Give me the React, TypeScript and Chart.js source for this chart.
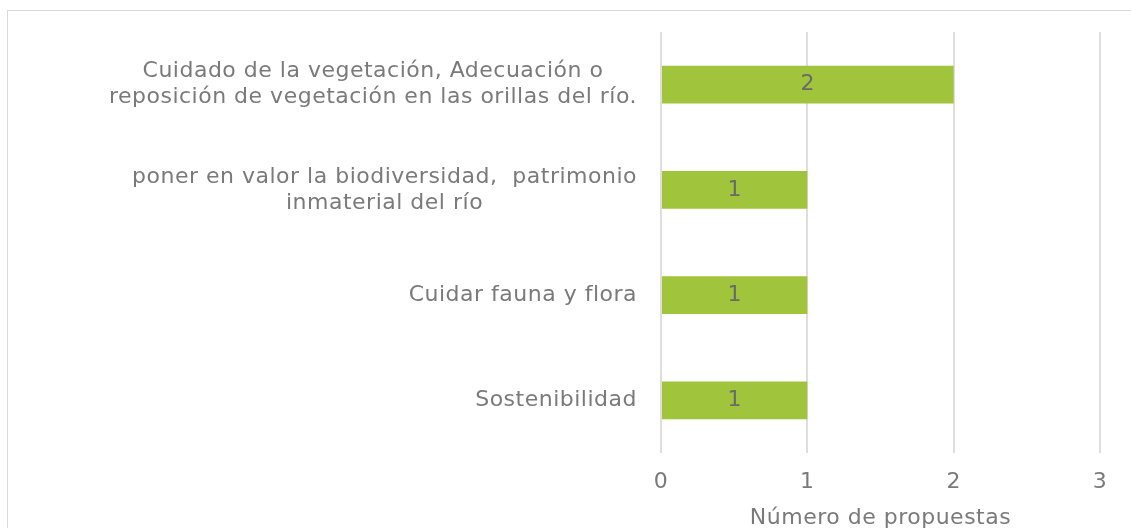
import React, { useEffect, useRef } from "react";
import { Chart, registerables } from "chart.js";

Chart.register(...registerables);

const categories: string[][] = [
  ["Cuidado de la vegetación, Adecuación o", "reposición de vegetación en las orillas del río."],
  ["poner en valor la biodiversidad,  patrimonio", "inmaterial del río"],
  ["Cuidar fauna y flora"],
  ["Sostenibilidad"],
];
const values: number[] = [2, 1, 1, 1];
const xTicks: number[] = [0, 1, 2, 3];
const xTitle = "Número de propuestas";

const FONT = "'DejaVu Sans', sans-serif";
const SIZE = 22;
const TEXT = "#7a7a7a";
const SPACING = "0.5px";

const spacingPlugin = {
  id: "spacing",
  beforeDraw(chart: any) {
    chart.ctx.letterSpacing = SPACING;
  },
};

const labelsPlugin = {
  id: "customLabels",
  afterDraw(chart: any) {
    const ctx = chart.ctx;
    const y = chart.scales.y;
    const area = chart.chartArea;
    ctx.save();
    ctx.letterSpacing = SPACING;
    ctx.font = `${SIZE}px ${FONT}`;
    ctx.fillStyle = TEXT;
    ctx.textBaseline = "middle";
    const right = area.left - 24;
    const lh = 26;
    categories.forEach((lines, i) => {
      const cy = y.getPixelForValue(i);
      const widths = lines.map((l) => ctx.measureText(l).width);
      const w = Math.max(...widths);
      lines.forEach((l, j) => {
        const ly = cy + (j - (lines.length - 1) / 2) * lh;
        ctx.textAlign = "center";
        ctx.fillText(l, right - w / 2, ly);
      });
    });
    const meta = chart.getDatasetMeta(0);
    ctx.fillStyle = "#6a6a6a";
    ctx.textAlign = "center";
    meta.data.forEach((bar: any, i: number) => {
      const cx = (bar.x + bar.base) / 2;
      ctx.fillText(String(values[i]), cx, bar.y);
    });
    ctx.restore();
  },
};

export default function App() {
  const ref = useRef<HTMLCanvasElement>(null);
  useEffect(() => {
    if (!ref.current) return;
    const chart = new Chart(ref.current, {
      type: "bar",
      data: {
        labels: categories.map((c) => c.join(" ")),
        datasets: [
          {
            data: values,
            backgroundColor: "#A0C43C",
            categoryPercentage: 1,
            barPercentage: 0.358,
          },
        ],
      },
      options: {
        indexAxis: "y",
        responsive: false,
        animation: false,
        layout: { padding: { top: 21, right: 47, bottom: 16, left: 0 } },
        plugins: { legend: { display: false }, tooltip: { enabled: false } },
        scales: {
          x: {
            min: 0,
            max: 3,
            afterBuildTicks: (s: any) => {
              s.ticks = xTicks.map((v) => ({ value: v }));
            },
            afterFit: (s: any) => {
              s.height = 80;
            },
            grid: { color: "#dedede", lineWidth: 2, drawTicks: false },
            border: { display: false },
            ticks: {
              padding: 16,
              color: TEXT,
              font: { family: FONT, size: SIZE },
            },
            title: {
              display: true,
              text: xTitle,
              color: TEXT,
              font: { family: FONT, size: SIZE },
              padding: { top: 9, bottom: 2 },
            },
          },
          y: {
            afterFit: (s: any) => {
              s.width = 653;
            },
            grid: { display: false },
            border: { display: false },
            ticks: { display: false },
          },
        },
      },
      plugins: [spacingPlugin, labelsPlugin],
    });
    return () => chart.destroy();
  }, []);
  return (
    <div style={{ position: "fixed", left: 0, top: 0, width: 1131, height: 528, overflow: "hidden", background: "#fff" }}>
      <div
        style={{
          position: "absolute",
          left: 7,
          top: 10,
          width: 1139,
          height: 538,
          border: "1px solid #d9d9d9",
        }}
      >
        <canvas ref={ref} width={1139} height={538} style={{ display: "block", width: 1139, height: 538 }} />
      </div>
    </div>
  );
}
